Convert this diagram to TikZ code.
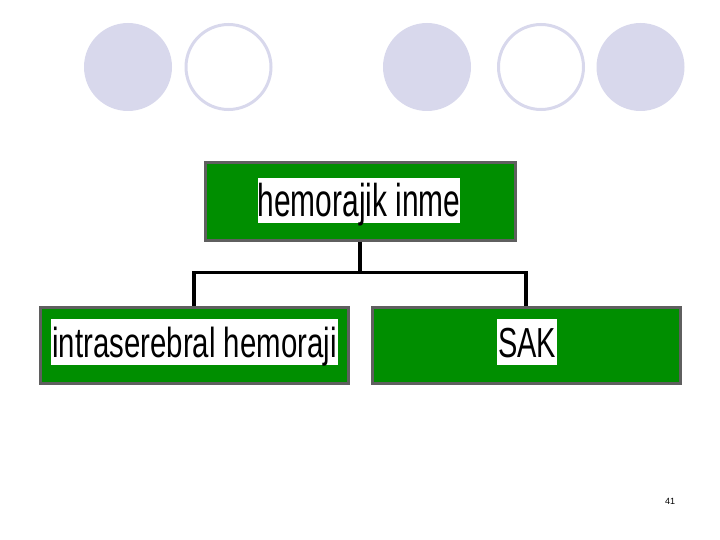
\documentclass[tikz,border=0pt]{standalone}
\usepackage{fontspec}
\usepackage{graphicx}
\setmainfont{Liberation Sans}
\definecolor{lav}{RGB}{216,216,236}
\definecolor{boxgreen}{RGB}{0,142,0}
\definecolor{boxgray}{RGB}{95,95,95}
\tikzset{
  gbox/.style={draw=boxgray, line width=3pt, fill=boxgreen, inner sep=0pt},
  lbl/.style={fill=white, inner xsep=0pt, inner ysep=0pt, align=center},
  conn/.style={draw=black, line width=3.2pt},
  dotfill/.style={fill=lav, draw=none},
  dotring/.style={draw=lav, line width=3pt, fill=none}
}
\begin{document}
\begin{tikzpicture}[x=1pt,y=-1pt]
\useasboundingbox (0,0) rectangle (720,540);
% decorative circles
\fill[dotfill] (128,67) circle (44);
\draw[dotring] (228.5,67) circle (42.5);
\fill[dotfill] (427,67) circle (44);
\draw[dotring] (541,67) circle (42.5);
\fill[dotfill] (640.5,67) circle (44);
% boxes
\node[gbox, minimum width=310, minimum height=77] (top) at (360,201.5) {};
\node[gbox, minimum width=308, minimum height=76] (bl) at (194,345) {};
\node[gbox, minimum width=308, minimum height=76] (br) at (526,345) {};
% labels
\node[lbl, minimum width=202, text height=38.5pt, text depth=6.5pt, font=\fontsize{46}{50}\selectfont] (tl) at (359,200.5) {\scalebox{0.65}[1]{hemorajik inme}};
\node[lbl, minimum width=287, text height=37.7pt, text depth=8.3pt, font=\fontsize{42}{46}\selectfont] (bll) at (194.5,342.3) {\scalebox{0.70}[1]{intraserebral hemoraji}};
\node[lbl, minimum width=59.5, text height=37.7pt, text depth=8.3pt, font=\fontsize{42}{46}\selectfont] (brl) at (527,342.3) {\scalebox{0.69}[1]{SAK}};
% connectors
\coordinate (j) at (360,272.5);
\draw[conn] (top.south) -- (j);
\draw[conn] (j) -| (bl.north);
\draw[conn] (j) -| (br.north);
% page number
\node[font=\fontsize{9}{10}\selectfont, inner sep=0pt] (pg) at (670,501.5) {41};
\end{tikzpicture}
\end{document}
